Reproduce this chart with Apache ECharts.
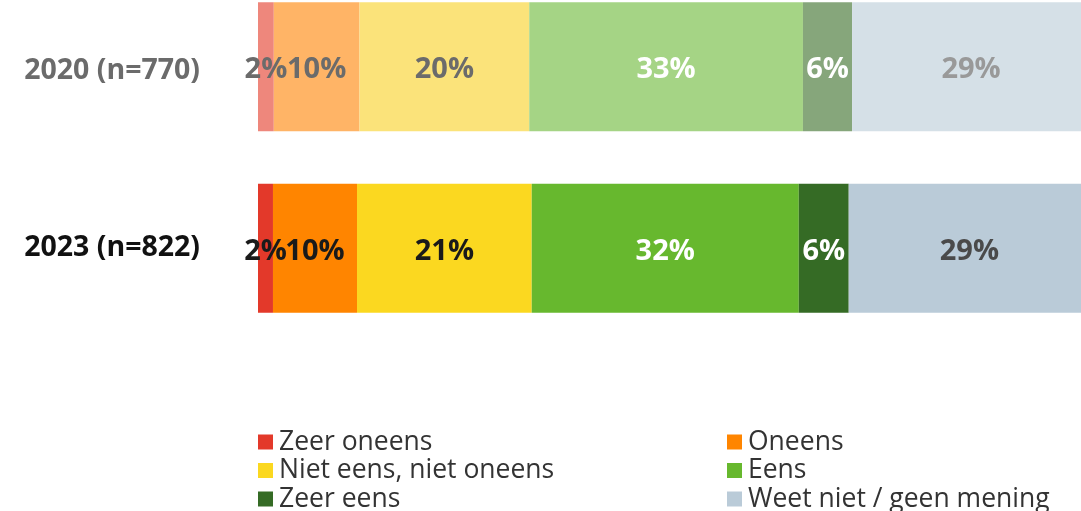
<!DOCTYPE html>
<html><head><meta charset="utf-8">
<script src="https://cdn.jsdelivr.net/npm/echarts@6/dist/echarts.min.js"></script>
<style>html,body{margin:0;padding:0;background:#fff}#c{width:1081px;height:511px}</style>
</head><body><div id="c"></div>
<script>
const categories = ['2020 (n=770)', '2023 (n=822)'];
const seriesNames = ['Zeer oneens', 'Oneens', 'Niet eens, niet oneens', 'Eens', 'Zeer eens', 'Weet niet / geen mening'];
const values2020 = [1.9, 10.3, 20.4, 32.9, 5.9, 28.6];
const values2023 = [1.8, 10.1, 21.0, 32.1, 6.0, 29.0];
const labels2020 = ['2%', '10%', '20%', '33%', '6%', '29%'];
const labels2023 = ['2%', '10%', '21%', '32%', '6%', '29%'];

const colors = ['#E3392A', '#FF8500', '#FBD820', '#67B82E', '#356B25', '#BACBD8'];
const fadedColors = ['#EE877C', '#FFB466', '#FBE37A', '#A5D485', '#86A67B', '#D5E0E7'];
const labelColors2023 = ['#1a1a1a', '#1a1a1a', '#1a1a1a', '#ffffff', '#ffffff', '#4a4a4a'];
const labelColors2020 = ['#6b6b6b', '#6b6b6b', '#6b6b6b', '#ffffff', '#ffffff', '#999999'];

const FONT = '"Open Sans", "Noto Sans", sans-serif';

const series = seriesNames.map((name, i) => ({
  name, type: 'bar', stack: 'total', barWidth: 129,
  itemStyle: { color: colors[i] },
  label: { show: true, position: 'inside', offset: [0, 3], fontFamily: FONT, fontWeight: 'bold', fontSize: 29 },
  emphasis: { disabled: true },
  data: [
    { value: values2020[i], itemStyle: { color: fadedColors[i] },
      label: { formatter: labels2020[i], color: labelColors2020[i] } },
    { value: values2023[i], itemStyle: { color: colors[i] },
      label: { formatter: labels2023[i], color: labelColors2023[i] } }
  ]
}));

const legendCommon = {
  orient: 'vertical', itemWidth: 15, itemHeight: 15, itemGap: 1.5, height: 200,
  icon: 'rect', selectedMode: false, padding: 0,
  textStyle: { fontFamily: FONT, fontSize: 26.5, color: '#333', padding: [0,0,0,1] }
};

const chart = echarts.init(document.getElementById('c'), null, { renderer: 'canvas' });
chart.setOption({
  animation: false,
  grid: { left: 258, width: 832, top: -24, height: 363, outerBoundsMode: 'none', containLabel: false },
  xAxis: { type: 'value', min: 0, max: 100, show: false },
  yAxis: {
    type: 'category', data: categories, inverse: true,
    axisLine: { show: false }, axisTick: { show: false },
    axisLabel: {
      margin: 58, fontFamily: FONT, fontWeight: 'bold', fontSize: 28.5,
      formatter: (v, idx) => idx === 0 ? '{a|' + v + '}' : '{b|' + v + '}',
      rich: {
        a: { fontFamily: FONT, fontWeight: 'bold', fontSize: 28.5, color: '#6b6b6b', padding: [8, 0, 0, 0] },
        b: { fontFamily: FONT, fontWeight: 'bold', fontSize: 28.5, color: '#111111' }
      }
    }
  },
  legend: [
    Object.assign({ left: 258, top: 428.5, data: [seriesNames[0], seriesNames[2], seriesNames[4]] }, legendCommon),
    Object.assign({ left: 727, top: 428.5, data: [seriesNames[1], seriesNames[3], seriesNames[5]] }, legendCommon)
  ],
  series
});
</script></body></html>
